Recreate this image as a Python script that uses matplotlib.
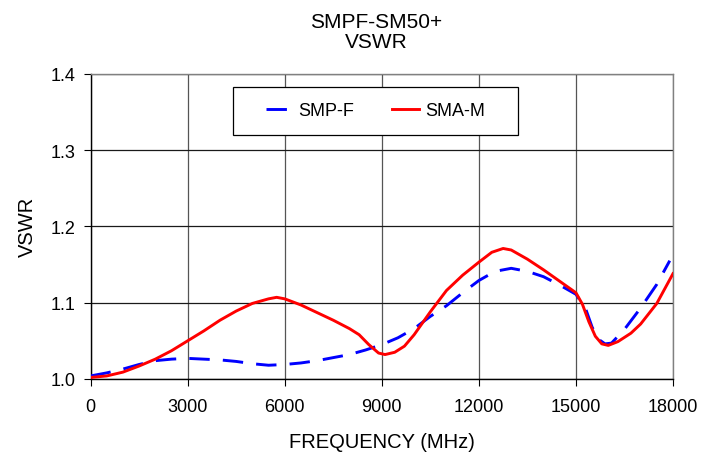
import matplotlib
matplotlib.use("Agg")
import matplotlib.pyplot as plt
from matplotlib.patches import Rectangle

plt.rcParams['font.family'] = ['Liberation Sans', 'DejaVu Sans']

# frequency (MHz) and VSWR
freq_smp = [0, 500, 1000, 1500, 2000, 2500, 3000, 3500, 4000, 4500, 5000, 5500,
            6000, 6500, 7000, 7500, 8000, 8500, 9000, 9500, 10000, 10500, 11000,
            11500, 12000, 12500, 13000, 13500, 14000, 14500, 15000, 15300, 15500,
            15700, 15900, 16100, 16500, 17000, 17500, 17900]
vswr_smp = [1.004, 1.008, 1.013, 1.019, 1.024, 1.026, 1.027, 1.026, 1.025, 1.023,
            1.020, 1.018, 1.019, 1.021, 1.024, 1.028, 1.032, 1.038, 1.045, 1.054,
            1.066, 1.082, 1.096, 1.113, 1.129, 1.141, 1.145, 1.141, 1.134, 1.123,
            1.111, 1.092, 1.068, 1.052, 1.046, 1.047, 1.065, 1.093, 1.124, 1.155]

freq_sma = [0, 500, 1000, 1500, 2000, 2500, 3000, 3500, 4000, 4500, 5000, 5500,
            5750, 6000, 6500, 7000, 7500, 8000, 8300, 8600, 8900, 9100, 9400, 9700,
            10000, 10500, 11000, 11500, 12000, 12400, 12750, 13000, 13500, 14000,
            14500, 15000, 15200, 15400, 15600, 15800, 16000, 16300, 16700, 17000,
            17500, 18000]
vswr_sma = [1.002, 1.004, 1.009, 1.017, 1.026, 1.037, 1.050, 1.063, 1.077, 1.089,
            1.099, 1.105, 1.107, 1.105, 1.097, 1.087, 1.077, 1.066, 1.058, 1.045,
            1.034, 1.032, 1.035, 1.043, 1.058, 1.088, 1.116, 1.136, 1.153, 1.166,
            1.171, 1.169, 1.157, 1.143, 1.128, 1.113, 1.098, 1.075, 1.056, 1.046,
            1.044, 1.049, 1.060, 1.072, 1.099, 1.138]

xticks = [0, 3000, 6000, 9000, 12000, 15000, 18000]
yticks = [1.0, 1.1, 1.2, 1.3, 1.4]

fig = plt.figure(figsize=(7.19, 4.56), dpi=100)
ax = fig.add_axes([0.126, 0.1667, 0.81, 0.6695])

ax.plot(freq_smp, vswr_smp, color='#0000ff', lw=2.1, linestyle=(0, (7, 4.5)),
        label='SMP-F', zorder=3, solid_joinstyle='round')
ax.plot(freq_sma, vswr_sma, color='#ff0000', lw=2.1, label='SMA-M', zorder=4,
        solid_joinstyle='round')

ax.set_xlim(0, 18000)
ax.set_ylim(1.0, 1.4)
ax.set_xticks(xticks)
ax.set_yticks(yticks)
ax.set_yticklabels([f"{v:.1f}" for v in yticks])
ax.tick_params(labelsize=13, length=5, direction='out', width=0.8)
ax.tick_params(axis='x', pad=9)
ax.tick_params(axis='y', pad=6)

# gridlines: horizontal dark, vertical grey
ax.yaxis.grid(True, color='#1a1a1a', lw=0.9)
ax.xaxis.grid(True, color='#555555', lw=0.9)
ax.set_axisbelow(True)

for s in ['top', 'right']:
    ax.spines[s].set_color('#808080')
for s in ['left', 'bottom']:
    ax.spines[s].set_color('black')
for s in ax.spines.values():
    s.set_linewidth(1.0)

ax.set_xlabel('FREQUENCY (MHz)', fontsize=14.5, labelpad=12)
ax.set_ylabel('VSWR', fontsize=14.5, labelpad=10)
ax.set_title('SMPF-SM50+\nVSWR', fontsize=15, pad=19, linespacing=1.1, x=0.49)

# legend box
box = Rectangle((0.244, 0.799), 0.490, 0.157, transform=ax.transAxes,
                facecolor='white', edgecolor='black', lw=0.9, zorder=5)
ax.add_patch(box)
leg = ax.legend(loc='center', bbox_to_anchor=(0.489, 0.878), ncol=2, fontsize=13,
                frameon=False, handlelength=1.5, handletextpad=0.3,
                columnspacing=2.1, borderaxespad=0)
leg.set_zorder(6)

fig.savefig('out.png', dpi=100)
